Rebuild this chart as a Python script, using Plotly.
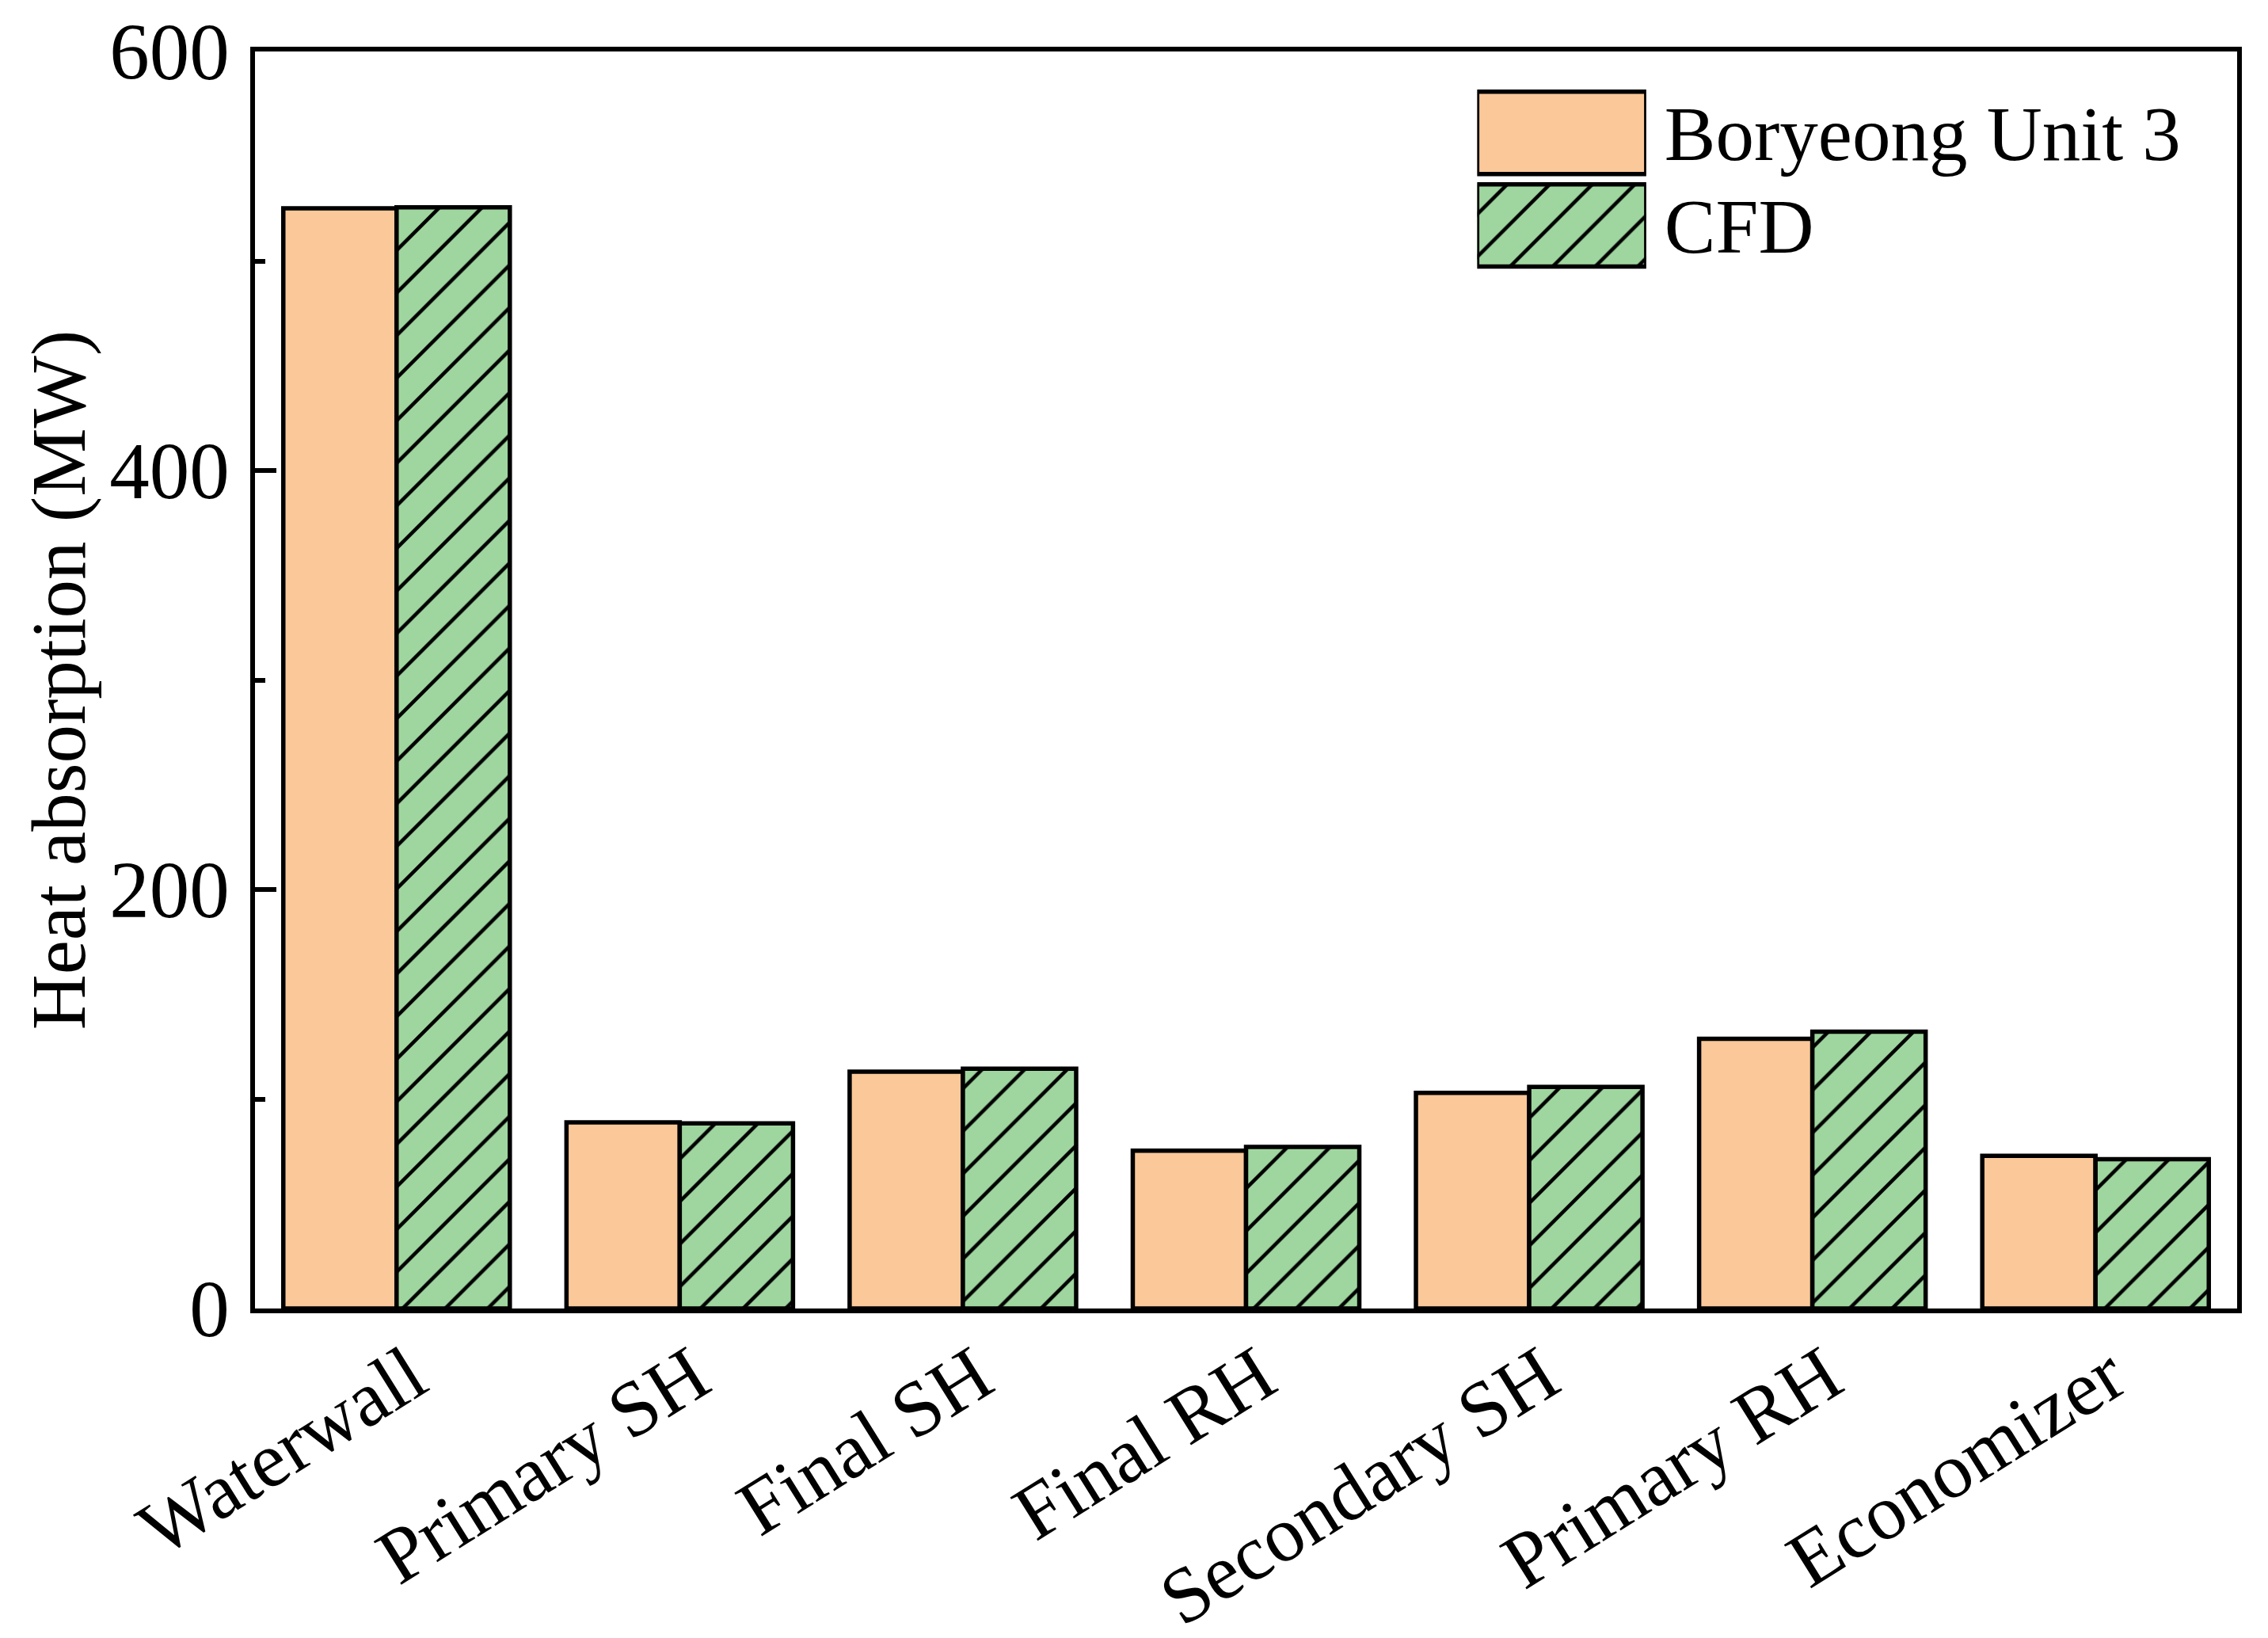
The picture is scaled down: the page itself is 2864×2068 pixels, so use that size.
import plotly.graph_objects as go

categories = ["Waterwall", "Primary SH", "Final SH", "Final RH",
              "Secondary SH", "Primary RH", "Economizer"]
boryeong = [525.1, 88.8, 113.0, 75.3, 102.9, 128.7, 72.9]
cfd = [525.6, 88.4, 114.5, 77.1, 105.8, 132.1, 71.3]
series_names = ["Boryeong Unit 3", "CFD"]
y_ticks = [0, 200, 400, 600]

ORANGE = "#FBC899"
GREEN = "#9FD69F"
FONT = "Liberation Serif"
LW = 5.5

hatch = dict(shape="/", fgcolor="black", bgcolor=GREEN,
             size=38, solidity=0.12, fillmode="replace")

fig = go.Figure()
fig.add_trace(go.Bar(
    x=categories, y=boryeong, name=series_names[0],
    marker=dict(color=ORANGE, line=dict(color="black", width=LW)),
    showlegend=False,
))
fig.add_trace(go.Bar(
    x=categories, y=cfd, name=series_names[1],
    marker=dict(color=GREEN, line=dict(color="black", width=LW), pattern=hatch),
    showlegend=False,
))

# large legend swatches drawn as bars in a small inset subplot
fig.add_trace(go.Bar(
    x=[1], y=[series_names[0]], orientation="h", xaxis="x2", yaxis="y2",
    width=0.89, offsetgroup="lg",
    marker=dict(color=ORANGE, line=dict(color="black", width=LW)),
    showlegend=False, hoverinfo="skip",
))
fig.add_trace(go.Bar(
    x=[1], y=[series_names[1]], orientation="h", xaxis="x2", yaxis="y2",
    width=0.89, offsetgroup="lg",
    marker=dict(color=GREEN, line=dict(color="black", width=LW), pattern=hatch),
    showlegend=False, hoverinfo="skip",
))

fig.update_layout(
    width=2864, height=2068,
    margin=dict(l=314, r=47, t=57, b=424, autoexpand=False),
    paper_bgcolor="white", plot_bgcolor="white",
    barmode="group", bargap=0.2, bargroupgap=0,
    font=dict(family=FONT, size=97, color="black"),
    xaxis=dict(
        range=[-0.5, 6.5], showline=True, linecolor="black", linewidth=6,
        mirror=True, ticks="", tickangle=-32, showgrid=False, zeroline=False,
        tickfont=dict(family=FONT, size=99), ticklabelshift=18,
        ticklabelstandoff=-16,
    ),
    yaxis=dict(
        range=[0, 600], tickvals=y_ticks, showline=True, linecolor="black",
        linewidth=6, mirror=True, ticks="inside", ticklen=27, tickwidth=6,
        tickcolor="black", showgrid=False, zeroline=False,
        minor=dict(dtick=100, ticks="inside", ticklen=13, tickwidth=6,
                   tickcolor="black", showgrid=False),
        title=dict(text="Heat absorption (MW)", font=dict(family=FONT, size=97),
                   standoff=0),
        tickfont=dict(family=FONT, size=101), ticklabelstandoff=6,
    ),
    xaxis2=dict(domain=[0.6166, 0.7019], anchor="y2", range=[0, 1],
                visible=False, fixedrange=True),
    yaxis2=dict(domain=[0.8248, 0.972], anchor="x2", type="category",
                categoryorder="array",
                categoryarray=[series_names[1], series_names[0]],
                tickmode="array", tickvals=series_names, ticktext=series_names,
                side="right", showline=False, ticks="", showgrid=False,
                zeroline=False, ticklabelstandoff=22,
                tickfont=dict(family=FONT, size=97), fixedrange=True),
)

fig.write_html("out.html")
